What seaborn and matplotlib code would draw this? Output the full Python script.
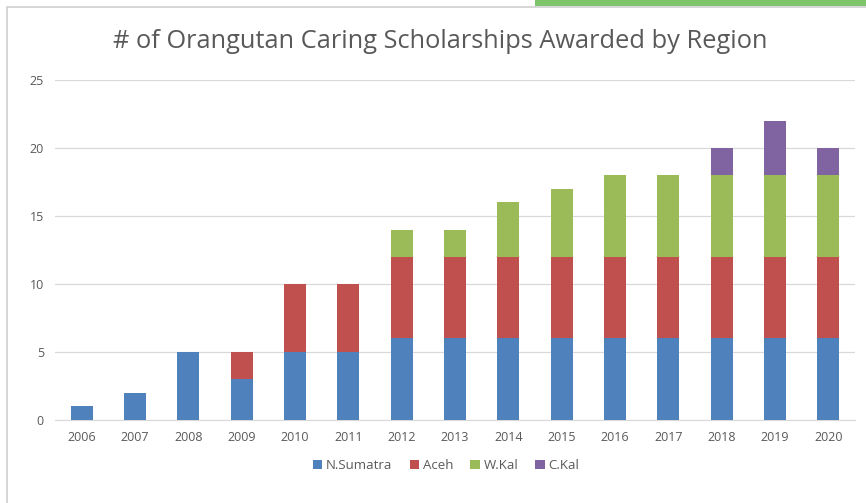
import matplotlib.pyplot as plt
import numpy as np
import pandas as pd
import seaborn as sns
from matplotlib.patches import Rectangle

sns.set_style('white')
plt.rcParams['font.family'] = ['Open Sans', 'DejaVu Sans']

years = [str(y) for y in range(2006, 2021)]
n_sumatra = [1, 2, 5, 3, 5, 5, 6, 6, 6, 6, 6, 6, 6, 6, 6]
aceh = [0, 0, 0, 2, 5, 5, 6, 6, 6, 6, 6, 6, 6, 6, 6]
w_kal = [0, 0, 0, 0, 0, 0, 2, 2, 4, 5, 6, 6, 6, 6, 6]
c_kal = [0, 0, 0, 0, 0, 0, 0, 0, 0, 0, 0, 0, 2, 4, 2]

regions = ['N.Sumatra', 'Aceh', 'W.Kal', 'C.Kal']
colors = ['#4F81BD', '#C0504D', '#9BBB59', '#8064A2']

df = pd.DataFrame({'year': years, 'N.Sumatra': n_sumatra, 'Aceh': aceh,
                   'W.Kal': w_kal, 'C.Kal': c_kal})
cum = df[regions].cumsum(axis=1)

fig = plt.figure(figsize=(8.66, 5.03), dpi=100)

# screenshot frame
fig.patches.append(Rectangle((7 / 866, -0.05), 1, 1 - 7 / 503 + 0.05, transform=fig.transFigure,
                             facecolor='white', edgecolor='#D0D0D0', lw=1.2, zorder=0))
fig.patches.append(Rectangle((535 / 866, 497 / 503), 1, 0.02, transform=fig.transFigure,
                             facecolor='#7DC46A', edgecolor='none', zorder=1))

ax = fig.add_axes([55 / 866, 83 / 503, 800 / 866, 340 / 503])
ax.set_zorder(5)
ax.patch.set_alpha(0)

# stacked bars: draw cumulative totals from top series down
for region, color in reversed(list(zip(regions, colors))):
    sns.barplot(x=df['year'], y=cum[region], color=color, width=0.41,
                saturation=1, ax=ax, label=region, zorder=3, linewidth=0)

ax.set_ylim(0, 25)
ax.set_xlim(-0.5, len(years) - 0.5)
ax.set_yticks(np.arange(0, 26, 5))
ax.yaxis.grid(True, color='#D9D9D9', lw=0.9, zorder=0)
ax.set_axisbelow(True)
for s in ['top', 'right', 'left']:
    ax.spines[s].set_visible(False)
ax.spines['bottom'].set_color('#D9D9D9')
ax.tick_params(axis='both', length=0, colors='#595959', labelsize=9, pad=8)
ax.set_xlabel('')
ax.set_ylabel('')

handles, labels = ax.get_legend_handles_labels()
order = [labels.index(r) for r in regions]
ax.legend([handles[i] for i in order], regions, loc='center', bbox_to_anchor=(0.489, -0.135),
          ncol=4, frameon=False, fontsize=9.5, handlelength=0.7, handleheight=0.7,
          handletextpad=0.3, columnspacing=1.3, labelcolor='#595959')

fig.text(440 / 866, 1 - 42 / 503, '# of Orangutan Caring Scholarships Awarded by Region',
         ha='center', va='center', fontsize=18.3, color='#595959')

fig.savefig('out.png', dpi=100)
